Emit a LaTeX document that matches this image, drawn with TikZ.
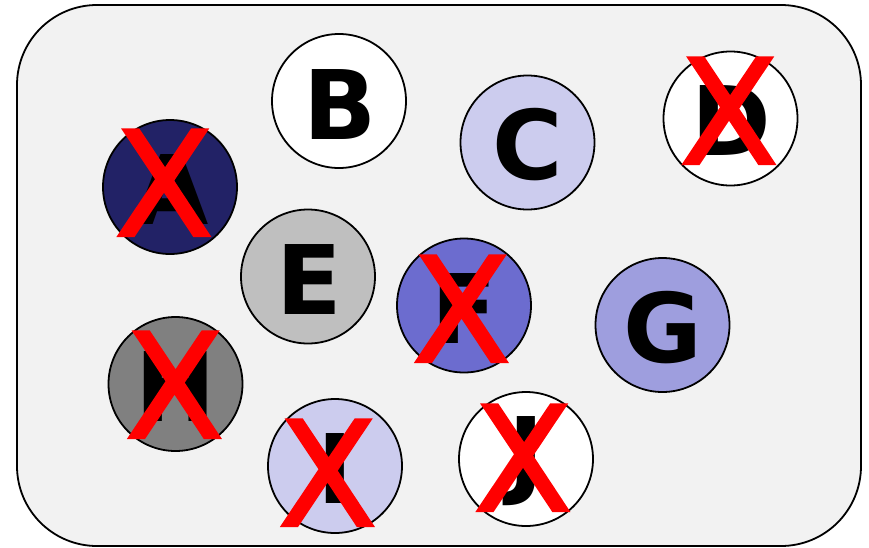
\documentclass[tikz,border=0pt]{standalone}
\usepackage{fontspec}
\setmainfont{DejaVu Sans}
\newfontfamily\crossfont[FakeBold=1.5]{DejaVu Sans}
\definecolor{bg}{HTML}{F2F2F2}
\definecolor{navy}{HTML}{222266}
\definecolor{lav}{HTML}{CCCCEE}
\definecolor{lgray}{HTML}{BFBFBF}
\definecolor{midblue}{HTML}{6C6CCF}
\definecolor{gblue}{HTML}{9E9EDE}
\definecolor{dgray}{HTML}{808080}
\tikzset{
  ball/.style={circle, draw=black, line width=1.8pt, minimum size=134pt, inner sep=0pt},
  letter/.style={anchor=base, inner sep=0pt, font=\fontsize{96}{100}\selectfont\bfseries},
  cross/.style={anchor=base, inner sep=0pt, text=red, font=\fontsize{146}{150}\crossfont}
}
\begin{document}
\begin{tikzpicture}[x=1pt,y=-1pt]
\useasboundingbox (0,0) rectangle (869,547);
\draw[fill=bg, line width=1.8pt, rounded corners=80pt] (17,5) rectangle (861,546);
% circles
\node[ball, fill=navy]  (cA) at (170,187) {};
\node[ball, fill=white] (cB) at (339,101) {};
\node[ball, fill=lav]   (cC) at (527.5,142.5) {};
\node[ball, fill=white] (cD) at (730.5,118.5) {};
\node[ball, fill=lgray] (cE) at (308,276.5) {};
\node[ball, fill=midblue] (cF) at (464,305.5) {};
\node[ball, fill=gblue] (cG) at (662.5,325) {};
\node[ball, fill=dgray] (cH) at (175.5,384) {};
\node[ball, fill=lav]   (cI) at (335,466) {};
\node[ball, fill=white] (cJ) at (526,459) {};
% letters
\node[letter] (lA) at (172,224) {A};
\node[letter] (lB) at (340,139) {B};
\node[letter] (lC) at (528,179) {C};
\node[letter] (lD) at (731,155) {D};
\node[letter] (lE) at (309,314) {E};
\node[letter] (lF) at (464,343) {F};
\node[letter] (lG) at (662.5,362) {G};
\node[letter] (lH) at (175.5,421) {H};
\node[letter] (lI) at (335,503) {I};
\node[letter] (lJ) at (526,486) {J};
% crosses
\node[cross] (xA) at (164,236) {X};
\node[cross] (xD) at (729,164) {X};
\node[cross] (xF) at (461.5,362) {X};
\node[cross] (xH) at (174.5,438) {X};
\node[cross] (xI) at (327.5,526) {X};
\node[cross] (xJ) at (523,511) {X};
\end{tikzpicture}
\end{document}
